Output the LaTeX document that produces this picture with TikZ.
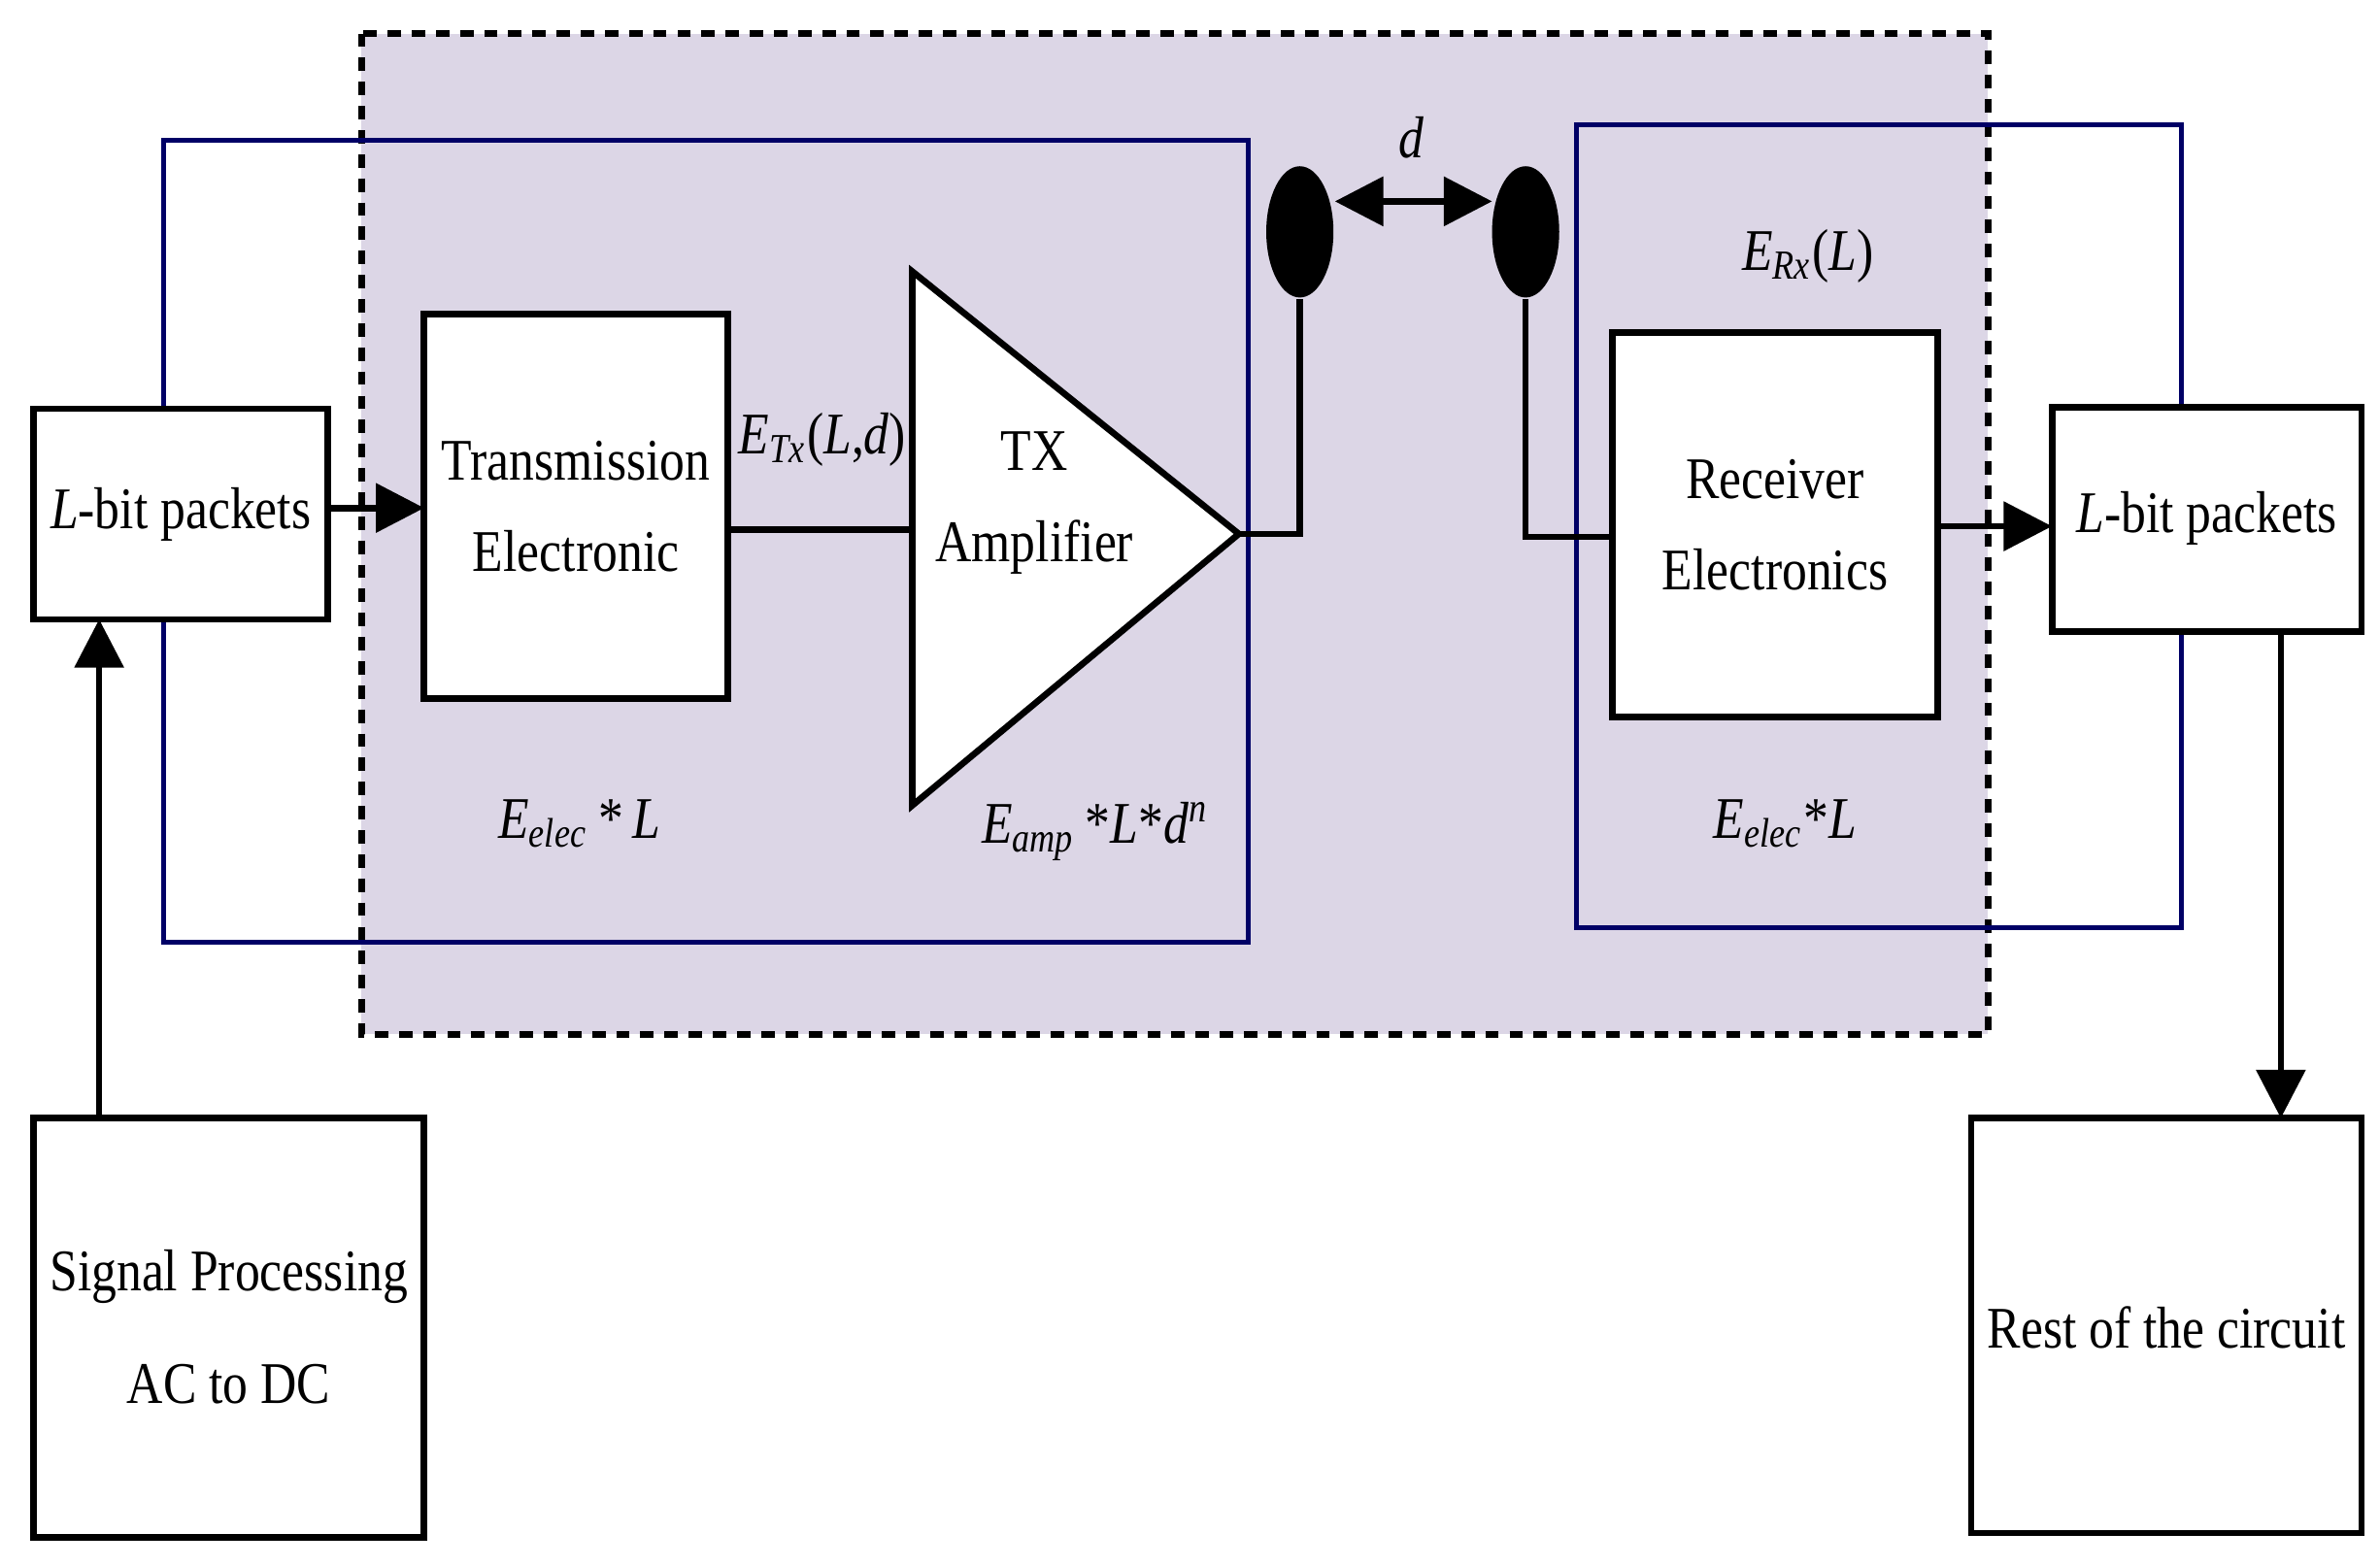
\documentclass[tikz,border=0pt]{standalone}
\usepackage{fontspec}
\setmainfont[FakeStretch=0.85]{Liberation Serif}
\usetikzlibrary{arrows.meta,shapes.geometric}
\begin{document}
\fontsize{11}{13}\selectfont
\begin{tikzpicture}[x=0.01cm,y=-0.01cm,
  blk/.style={draw=black,line width=1.2pt,fill=white},
  blu/.style={draw=blue!40!black,line width=0.9pt},
  arr/.style={line width=1.2pt,-{Triangle[length=9pt,width=9pt]}},
  wire/.style={line width=1.2pt},
  lab/.style={font=\itshape}]
\useasboundingbox (0,0) rectangle (1560,1027);
\fill[white] (0,0) rectangle (1560,1027);
\draw[fill={rgb,255:red,220;green,214;blue,230},line width=1.3pt,dash pattern=on 2.5pt off 2pt] (237,22) rectangle (1303,678);
\draw[blu] (107,92) rectangle (818,618);
\draw[blu] (1033,82) rectangle (1430,608);
\path[blk] (22,268) rectangle (215,406);
\node (lbl1) at (118.5,337) {\textit{L}-bit packets};
\path[blk] (1345,267) rectangle (1548,414);
\node (lbl2) at (1446.5,340) {\textit{L}-bit packets};
\path[blk] (278,206) rectangle (477,458);
\node[align=center] (tx) at (377.5,332) {Transmission\\[4pt]Electronic};
\path[blk] (1057,218) rectangle (1270,470);
\node[align=center] (rx) at (1163.5,344) {Receiver\\[4pt]Electronics};
\path[blk,line join=miter] (598,178) -- (598,528) -- (812,350) -- cycle;
\node[align=center] (amp) at (678,330) {TX\\[4pt]Amplifier};
\path[blk] (22,733) rectangle (278,1008);
\node[align=center] (sp) at (150,870) {Signal Processing\\[8pt]AC to DC};
\path[blk] (1292,733) rectangle (1548,1005);
\node (rest) at (1420,870) {Rest of the circuit};
\node[ellipse,fill=black,inner sep=0,minimum width=0.44cm,minimum height=0.86cm] (a1) at (852,152) {};
\node[ellipse,fill=black,inner sep=0,minimum width=0.44cm,minimum height=0.86cm] (a2) at (1000,152) {};
\draw[wire] (812,350) -- (852,350) -- (a1.south);
\draw[wire] (a2.south) -- (1000,352) -- (1057,352);
\draw[line width=1.2pt,{Triangle[length=9pt,width=9pt]}-{Triangle[length=9pt,width=9pt]}] (875,132) -- (978,132);
\node[lab] (d) at (925,90) {d};
\draw[arr] (215,333) -- (278,333);
\draw[wire] (477,347) -- (598,347);
\draw[arr] (1270,345) -- (1345,345);
\draw[arr] (65,733) -- (65,406);
\draw[arr] (1495,414) -- (1495,733);
\node[inner sep=0] (etx) at (539,288) {\textit{E}\textsubscript{\textit{Tx}}(\textit{L},\textit{d})};
\node (erx) at (1185,168) {\textit{E}\textsubscript{\textit{Rx}}(\textit{L})};
\node (e1) at (380,540) {\textit{E}\textsubscript{\textit{elec}}\,*\,\textit{L}};
\node (e2) at (718,545) {\textit{E}\textsubscript{\textit{amp}}\,*\textit{L}*\textit{d}\textsuperscript{\textit{n}}};
\node (e3) at (1170,540) {\textit{E}\textsubscript{\textit{elec}}*\textit{L}};
\end{tikzpicture}
\end{document}
